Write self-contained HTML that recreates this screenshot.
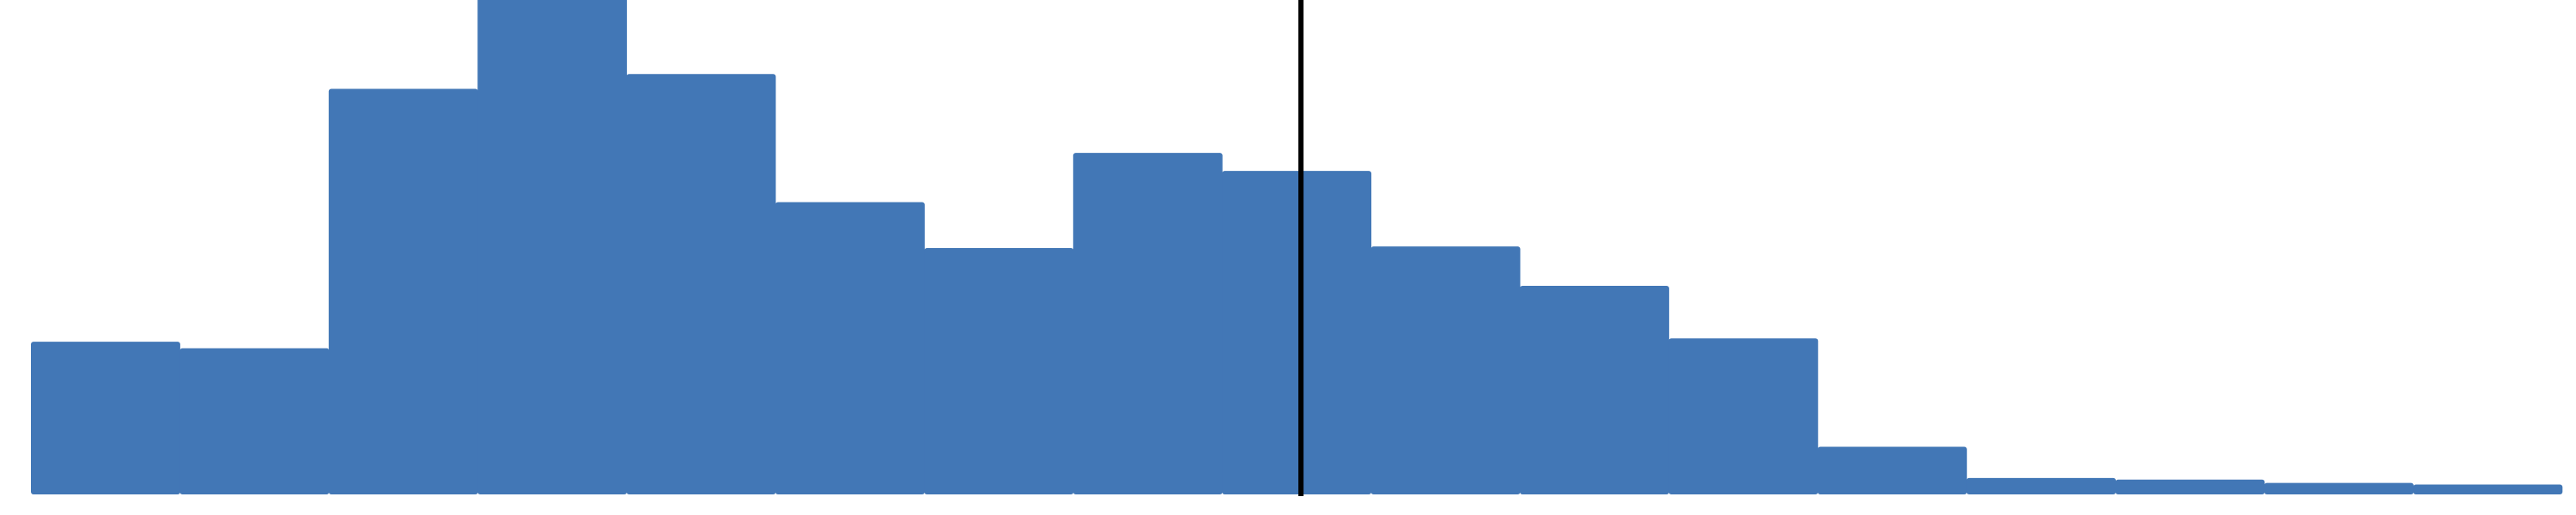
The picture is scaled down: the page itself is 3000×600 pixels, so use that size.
<!DOCTYPE html>
<html><head><meta charset="utf-8"><style>
html,body{margin:0;padding:0;background:#fff;}
svg{display:block;}
</style></head><body>
<svg id="chart" width="3000" height="600" viewBox="0 0 3000 600" xmlns="http://www.w3.org/2000/svg">
<g id="bars"></g>
<g id="marker"></g>
</svg>
<script>
const binIndex = [0,1,2,3,4,5,6,7,8,9,10,11,12,13,14,15,16];
const counts = [93,89,247,330,256,178,150,208,197,151,127,95,29,10,9,7,6];
const markerValue = [8.53];

const x0 = 36, binW = 173.4, baseY = 576, pxPerUnit = 1.913;
function xScale(i){ return x0 + i*binW; }
function yScale(v){ return baseY - v*pxPerUnit; }

const NS = 'http://www.w3.org/2000/svg';
const g = document.getElementById('bars');
binIndex.forEach((b, k) => {
  const r = document.createElementNS(NS, 'rect');
  const y = Math.max(yScale(counts[k]), -10);
  r.setAttribute('x', xScale(b));
  r.setAttribute('y', y);
  r.setAttribute('width', binW + 0.5);
  r.setAttribute('height', baseY - y);
  r.setAttribute('rx', 3);
  r.setAttribute('fill', '#4277b6');
  
  
  g.appendChild(r);
});
const m = document.getElementById('marker');
markerValue.forEach(v => {
  const l = document.createElementNS(NS, 'rect');
  l.setAttribute('x', xScale(v) - 3);
  l.setAttribute('y', 0);
  l.setAttribute('width', 6);
  l.setAttribute('height', baseY + 2);
  l.setAttribute('fill', '#000');
  
  
  m.appendChild(l);
});
</script>
</body></html>
